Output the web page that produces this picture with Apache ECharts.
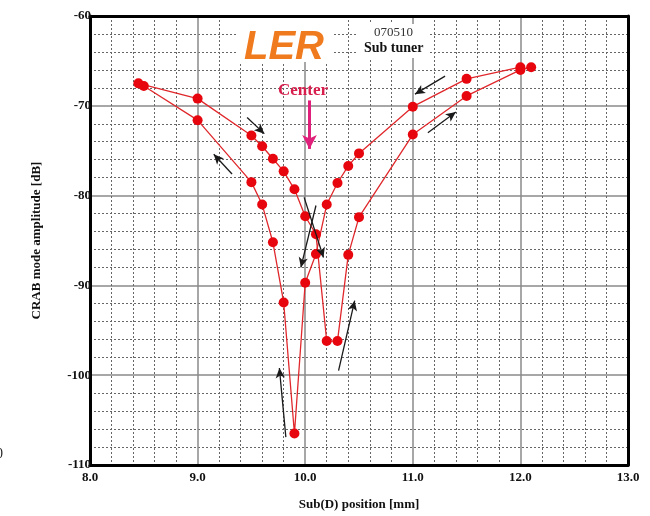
<!DOCTYPE html>
<html>
<head>
<meta charset="utf-8">
<script src="https://cdn.jsdelivr.net/npm/echarts@6/dist/echarts.min.js"></script>
<style>
    html, body { margin: 0; padding: 0; background: #fff; }
    #chart { width: 650px; height: 516px; }
</style>
</head>
<body>
<div id="chart"></div>
<script>
// sweep to the right (mm, dB)
let fwdPos = [8.45, 9.0, 9.5, 9.6, 9.7, 9.8, 9.9, 10.0, 10.1, 10.2, 10.3, 10.4, 10.5, 11.0, 11.5, 12.0, 12.1];
let fwdAmp = [-67.5, -69.2, -73.3, -74.5, -75.9, -77.3, -79.3, -82.3, -84.3, -96.2, -96.2, -86.6, -82.4, -73.2, -68.9, -66.0, -65.7];
// sweep back to the left
let backPos = [12.0, 11.5, 11.0, 10.5, 10.4, 10.3, 10.2, 10.1, 10.0, 9.9, 9.8, 9.7, 9.6, 9.5, 9.0, 8.5];
let backAmp = [-65.7, -67.0, -70.1, -75.3, -76.7, -78.6, -81.0, -86.5, -89.7, -106.5, -91.9, -85.2, -81.0, -78.5, -71.6, -67.8];

// direction arrows [x1, y1, x2, y2] in data units
let arrows = [
    [9.46, -71.3, 9.62, -73.1],
    [9.32, -77.6, 9.15, -75.4],
    [9.99, -80.2, 10.17, -86.9],
    [10.10, -81.1, 9.96, -88.0],
    [9.82, -106.9, 9.76, -99.2],
    [10.31, -99.5, 10.46, -91.7],
    [11.14, -73.0, 11.40, -70.7],
    [11.30, -66.7, 11.02, -68.7],
];
let centerArrow = [10.04, -69.4, 10.04, -74.8];

function zip(xs, ys) {
    let out = [];
    for (let i = 0; i < xs.length; i++) {
        out.push([xs[i], ys[i]]);
    }
    return out;
}

let serif = "'Liberation Serif', 'DejaVu Serif', serif";
let frame = { show: true, lineStyle: { color: "#000", width: 3 } };
let majorLine = { show: true, lineStyle: { color: "#8a8a8a", width: 1.5 } };
let minorLine = { show: true, lineStyle: { color: "#666", width: 1, type: [2, 2] } };

let chart = echarts.init(document.getElementById("chart"), null, { renderer: "canvas" });
chart.setOption({
    backgroundColor: "#fff",
    animation: false,
    grid: {
        left: 90,
        top: 16,
        right: 22,
        bottom: 49,
        show: false,
    },
    xAxis: [
        {
            type: "value",
            min: 8,
            max: 13,
            interval: 1,
            name: "Sub(D) position [mm]",
            nameLocation: "middle",
            nameGap: 33,
            nameTextStyle: { fontFamily: serif, fontWeight: "bold", fontSize: 13, color: "#111" },
            axisLine: frame,
            axisTick: { show: false },
            axisLabel: {
                margin: 6,
                fontFamily: serif,
                fontWeight: "bold",
                fontSize: 13,
                color: "#111",
                formatter: function (v) {
                    return v.toFixed(1);
                },
            },
            splitLine: majorLine,
            minorTick: { show: false, splitNumber: 5 },
            minorSplitLine: minorLine,
        },
        {
            // top edge of the frame
            type: "value",
            position: "top",
            min: 8,
            max: 13,
            interval: 1,
            axisLine: frame,
            axisTick: { show: false },
            axisLabel: { show: false },
            splitLine: { show: false },
        },
    ],
    yAxis: [
        {
            type: "value",
            min: -110,
            max: -60,
            interval: 10,
            name: "CRAB mode amplitude [dB]",
            nameLocation: "middle",
            nameGap: 47,
            nameTextStyle: { fontFamily: serif, fontWeight: "bold", fontSize: 13, color: "#111" },
            axisLine: frame,
            axisTick: { show: false },
            axisLabel: {
                margin: -1,
                fontFamily: serif,
                fontWeight: "bold",
                fontSize: 13,
                color: "#111",
            },
            splitLine: majorLine,
            minorTick: { show: false, splitNumber: 5 },
            minorSplitLine: minorLine,
        },
        {
            // right edge of the frame
            type: "value",
            position: "right",
            min: -110,
            max: -60,
            interval: 10,
            axisLine: frame,
            axisTick: { show: false },
            axisLabel: { show: false },
            splitLine: { show: false },
        },
    ],
    graphic: [
        // white boxes behind the title texts
        {
            type: "rect",
            z: 5,
            shape: { x: 238, y: 18, width: 96, height: 44 },
            style: { fill: "#fff" },
        },
        {
            type: "rect",
            z: 5,
            shape: { x: 358, y: 24, width: 72, height: 34 },
            style: { fill: "#fff" },
        },
        {
            type: "text",
            z: 6,
            left: 244,
            top: 28,
            style: {
                text: "LER",
                font: "italic bold 40px 'Liberation Sans', Arial, sans-serif",
                fill: "#f07a1e",
            },
        },
        {
            type: "text",
            z: 6,
            left: 374,
            top: 26,
            style: { text: "070510", font: "13px " + serif, fill: "#333" },
        },
        {
            type: "text",
            z: 6,
            left: 364,
            top: 41,
            style: { text: "Sub tuner", font: "bold 14px " + serif, fill: "#111" },
        },
        {
            type: "text",
            z: 6,
            left: 278,
            top: 82,
            style: { text: "Center", font: "bold 17px " + serif, fill: "#d81e4c" },
        },
        {
            type: "text",
            left: -4,
            top: 447,
            style: { text: "0", font: "14px " + serif, fill: "#222" },
        },
    ],
    series: [
        {
            type: "line",
            data: zip(fwdPos, fwdAmp),
            symbol: "circle",
            symbolSize: 10,
            itemStyle: { color: "#e8060e" },
            lineStyle: { color: "#e0282c", width: 1.3 },
            markLine: {
                silent: true,
                symbol: ["none", "arrow"],
                symbolSize: [7, 10],
                label: { show: false },
                lineStyle: { color: "#1a1a1a", width: 1.3, type: "solid" },
                data: arrows.map(function (a) {
                    return [{ coord: [a[0], a[1]] }, { coord: [a[2], a[3]] }];
                }),
            },
        },
        {
            type: "line",
            data: zip(backPos, backAmp),
            symbol: "circle",
            symbolSize: 10,
            itemStyle: { color: "#e8060e" },
            lineStyle: { color: "#e0282c", width: 1.3 },
            markLine: {
                silent: true,
                symbol: ["none", "arrow"],
                symbolSize: [11, 14],
                label: { show: false },
                lineStyle: { color: "#e0207a", width: 3, type: "solid" },
                data: [[
                    { coord: [centerArrow[0], centerArrow[1]] },
                    { coord: [centerArrow[2], centerArrow[3]] },
                ]],
            },
        },
    ],
});
window.addEventListener("resize", function () {
    chart.resize();
});
</script>
</body>
</html>
